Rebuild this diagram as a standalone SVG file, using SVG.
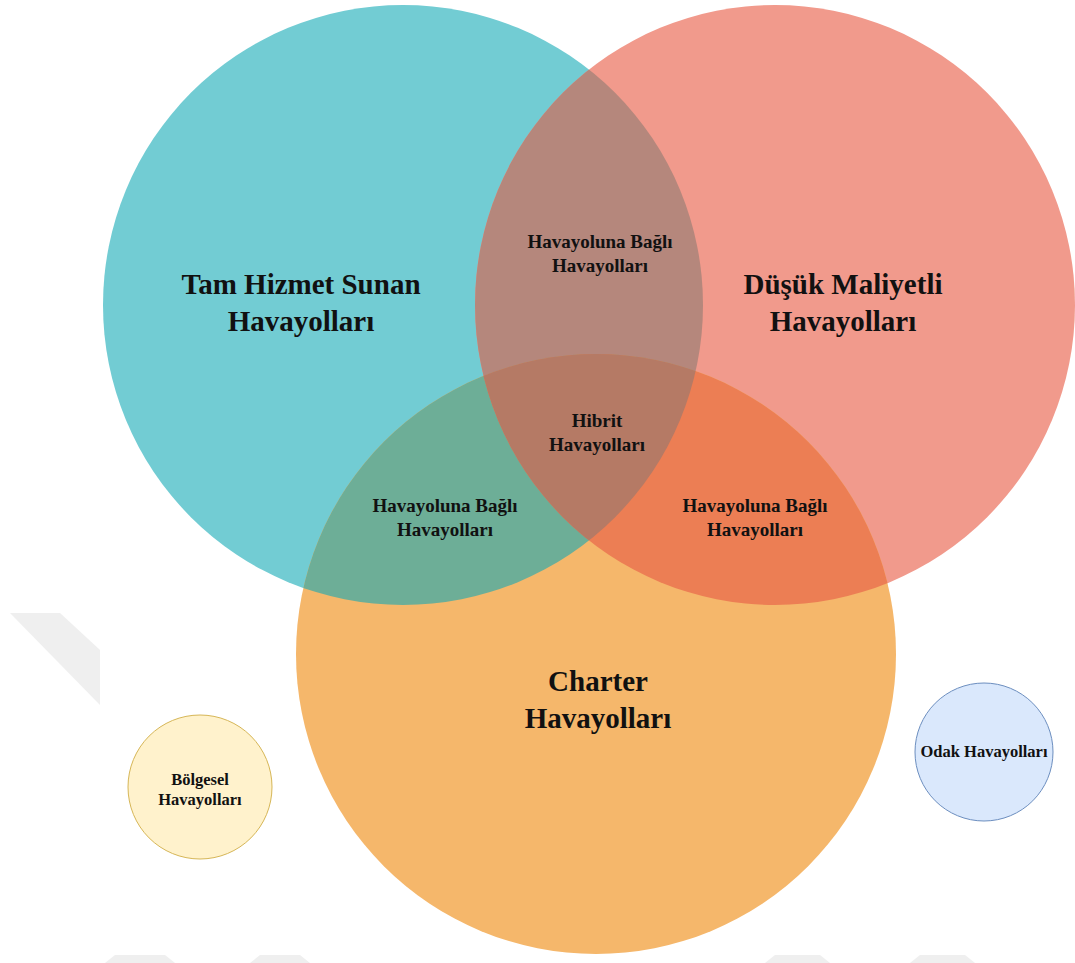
<svg xmlns="http://www.w3.org/2000/svg" width="1075" height="963" viewBox="0 0 1075 963">
<style>
text{font-family:"Liberation Serif","Times New Roman",serif;font-weight:bold;fill:#111;text-anchor:middle}
.big{font-size:29px}
.sm{font-size:19px}
.xs{font-size:16.5px}
</style>
<defs>
<clipPath id="cC"><circle cx="403" cy="305" r="300"/></clipPath>
<clipPath id="cR"><circle cx="775" cy="305" r="300"/></clipPath>
</defs>
<rect width="1075" height="963" fill="#fff"/>
<g id="watermark" fill="#efefef">
<polygon points="10,613 60,613 100,650 100,705"/>
<polygon points="105,963 115,955 165,955 175,963"/>
<polygon points="250,963 260,955 300,955 310,963"/>
<polygon points="765,963 775,955 820,955 830,963"/>
<polygon points="910,963 920,955 965,955 975,963"/>
</g>
<g id="tam-hizmet"><circle cx="403" cy="305" r="300" fill="#72ccd3"/></g>
<g id="dusuk-maliyetli"><circle cx="775" cy="305" r="300" fill="#f19a8c"/></g>
<g id="charter"><circle cx="596" cy="654" r="300" fill="#f5b76b"/></g>
<g id="overlap-cr" clip-path="url(#cC)"><circle cx="775" cy="305" r="300" fill="#b5877c"/></g>
<g id="overlap-co" clip-path="url(#cC)"><circle cx="596" cy="654" r="300" fill="#6dae97"/></g>
<g id="overlap-ro" clip-path="url(#cR)"><circle cx="596" cy="654" r="300" fill="#ec7e54"/></g>
<g id="hibrit" clip-path="url(#cC)"><g clip-path="url(#cR)"><circle cx="596" cy="654" r="300" fill="#b57a65"/></g></g>
<g id="labels">
<text class="big" x="301" y="294">Tam Hizmet Sunan</text>
<text class="big" x="301" y="331">Havayolları</text>
<text class="big" x="843" y="294">Düşük Maliyetli</text>
<text class="big" x="843" y="331">Havayolları</text>
<text class="big" x="598" y="691">Charter</text>
<text class="big" x="598" y="728">Havayolları</text>
<text class="sm" x="600" y="248">Havayoluna Bağlı</text>
<text class="sm" x="600" y="272">Havayolları</text>
<text class="sm" x="597" y="427">Hibrit</text>
<text class="sm" x="597" y="451">Havayolları</text>
<text class="sm" x="445" y="512">Havayoluna Bağlı</text>
<text class="sm" x="445" y="536">Havayolları</text>
<text class="sm" x="755" y="512">Havayoluna Bağlı</text>
<text class="sm" x="755" y="536">Havayolları</text>
</g>
<g id="bolgesel">
<circle cx="200" cy="787" r="72" fill="#fff2cc" stroke="#d6b656" stroke-width="1"/>
<text class="xs" x="200" y="785">Bölgesel</text>
<text class="xs" x="200" y="805">Havayolları</text>
</g>
<g id="odak">
<circle cx="984" cy="752" r="69" fill="#dae8fc" stroke="#6c8ebf" stroke-width="1"/>
<text class="xs" x="984" y="757">Odak Havayolları</text>
</g>
<g id="connectors"/>
</svg>
